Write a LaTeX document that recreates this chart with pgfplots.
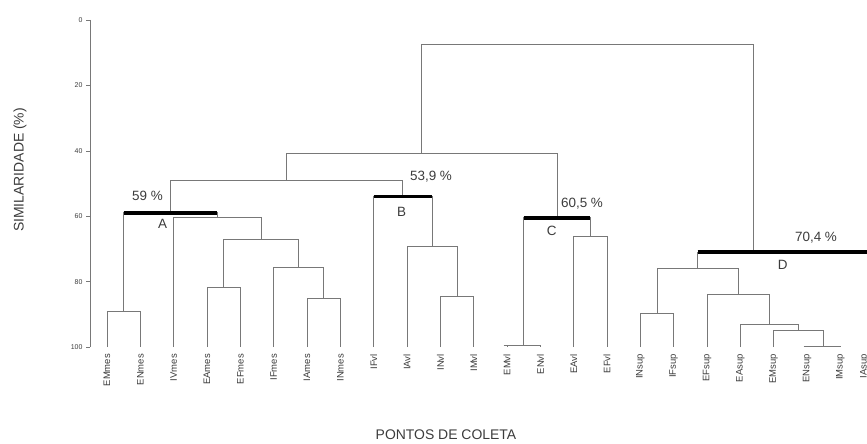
\documentclass[border=0pt]{standalone}
\usepackage{pgfplots}
\pgfplotsset{compat=1.18}
\usepackage{fontspec}
\setmainfont{Liberation Sans}
\definecolor{dline}{RGB}{120,120,120}
\definecolor{dtext}{RGB}{60,60,60}
\begin{document}
\begin{tikzpicture}[x=1bp,y=1bp]
\begin{axis}[
  at={(90bp,97bp)}, anchor=south west,
  scale only axis, width=777bp, height=327bp,
  xmin=0.49, xmax=23.80, ymin=0, ymax=100,
  y dir=reverse, clip=false,
  axis x line=none, axis y line*=left,
  y axis line style={draw=dline, line width=0.8bp, -},
  ytick={0,20,40,60,80,100},
  tick align=outside, major tick length=4bp,
  y tick style={draw=dline, line width=0.6bp},
  y tick label style={font=\fontsize{7}{8}\selectfont, text=dtext},
  /pgf/number format/assume math mode=true,
  dl/.style={draw=dline, line width=0.9bp, solid, mark=none},
  cut/.style={draw=black, line width=3.5bp, solid, mark=none},
]
% cluster A
\addplot[dl] coordinates {(1,100)(1,89.2)(2,89.2)(2,100)};
\addplot[dl] coordinates {(4,100)(4,81.8)(5,81.8)(5,100)};
\addplot[dl] coordinates {(7,100)(7,85.1)(8,85.1)(8,100)};
\addplot[dl] coordinates {(6,100)(6,75.6)(7.5,75.6)(7.5,85.1)};
\addplot[dl] coordinates {(4.5,81.8)(4.5,67.1)(6.75,67.1)(6.75,75.6)};
\addplot[dl] coordinates {(3,100)(3,60.3)(5.625,60.3)(5.625,67.1)};
\addplot[dl] coordinates {(1.5,89.2)(1.5,59)(4.3125,59)(4.3125,60.3)};
% cluster B
\addplot[dl] coordinates {(11,100)(11,84.6)(12,84.6)(12,100)};
\addplot[dl] coordinates {(10,100)(10,69.4)(11.5,69.4)(11.5,84.6)};
\addplot[dl] coordinates {(9,100)(9,53.9)(10.75,53.9)(10.75,69.4)};
\addplot[dl] coordinates {(2.906,59)(2.906,49.2)(9.875,49.2)(9.875,53.9)};
% cluster C
\addplot[dl] coordinates {(12.9,99.5)(14,99.5)(14,100)};
\addplot[dl] coordinates {(13,100)(13,99.5)};
\addplot[dl] coordinates {(15,100)(15,66.1)(16,66.1)(16,100)};
\addplot[dl] coordinates {(13.5,99.5)(13.5,60.5)(15.5,60.5)(15.5,66.1)};
\addplot[dl] coordinates {(6.39,49.2)(6.39,40.7)(14.5,40.7)(14.5,60.5)};
% cluster D
\addplot[dl] coordinates {(17,100)(17,89.6)(18,89.6)(18,100)};
\addplot[dl] coordinates {(21.9,99.7)(23,99.7)(23,100)};
\addplot[dl] coordinates {(21,100)(21,94.8)(22.5,94.8)(22.5,99.7)};
\addplot[dl] coordinates {(20,100)(20,93)(21.75,93)(21.75,94.8)};
\addplot[dl] coordinates {(19,100)(19,83.8)(20.875,83.8)(20.875,93)};
\addplot[dl] coordinates {(17.5,89.6)(17.5,76.1)(19.94,76.1)(19.94,83.8)};
\addplot[dl] coordinates {(18.72,76.1)(18.72,71)(24,71)(24,100)};
% root
\addplot[dl] coordinates {(10.445,40.7)(10.445,7.6)(20.38,7.6)(20.38,71)};
% thick cut bars
\addplot[cut] coordinates {(1.5,59)(4.3125,59)};
\addplot[cut] coordinates {(9,53.9)(10.75,53.9)};
\addplot[cut] coordinates {(13.5,60.5)(15.5,60.5)};
\addplot[cut] coordinates {(18.72,71)(24,71)};
% annotations
\begin{scope}[every node/.style={font=\fontsize{13.5}{16}\selectfont, text=dtext, inner sep=0pt}]
\node at (axis cs:2.215,53.8) {59 \%};
\node at (axis cs:2.67,62.4) {A};
\node at (axis cs:10.72,47.9) {53,9 \%};
\node at (axis cs:9.84,58.6) {B};
\node at (axis cs:15.25,56.3) {60,5 \%};
\node at (axis cs:14.34,64.5) {C};
\node at (axis cs:22.27,66.5) {70,4 \%};
\node at (axis cs:21.27,74.9) {D};
\end{scope}
% leaf labels
\begin{scope}[every node/.style={font=\fontsize{9.5}{11}\selectfont, text=dtext, rotate=90, anchor=east, inner sep=0pt}]
\node at ([yshift=-7bp]axis cs:1,100) {EMmes};
\node at ([yshift=-7bp]axis cs:2,100) {ENmes};
\node at ([yshift=-7bp]axis cs:3,100) {IVmes};
\node at ([yshift=-7bp]axis cs:4,100) {EAmes};
\node at ([yshift=-7bp]axis cs:5,100) {EFmes};
\node at ([yshift=-7bp]axis cs:6,100) {IFmes};
\node at ([yshift=-7bp]axis cs:7,100) {IAmes};
\node at ([yshift=-7bp]axis cs:8,100) {INmes};
\node at ([yshift=-7bp]axis cs:9,100) {IFvl};
\node at ([yshift=-7bp]axis cs:10,100) {IAvl};
\node at ([yshift=-7bp]axis cs:11,100) {INvl};
\node at ([yshift=-7bp]axis cs:12,100) {IMvl};
\node at ([yshift=-7bp]axis cs:13,100) {EMvl};
\node at ([yshift=-7bp]axis cs:14,100) {ENvl};
\node at ([yshift=-7bp]axis cs:15,100) {EAvl};
\node at ([yshift=-7bp]axis cs:16,100) {EFvl};
\node at ([yshift=-7bp]axis cs:17,100) {INsup};
\node at ([yshift=-7bp]axis cs:18,100) {IFsup};
\node at ([yshift=-7bp]axis cs:19,100) {EFsup};
\node at ([yshift=-7bp]axis cs:20,100) {EAsup};
\node at ([yshift=-7bp]axis cs:21,100) {EMsup};
\node at ([yshift=-7bp]axis cs:22,100) {ENsup};
\node at ([yshift=-7bp]axis cs:23,100) {IMsup};
\node at ([yshift=-7bp]axis cs:23.72,100) {IAsup};
\end{scope}
\end{axis}
\node[rotate=90, font=\fontsize{14}{16}\selectfont, text=dtext] at (20bp,274bp) {SIMILARIDADE (\%)};
\node[font=\fontsize{14}{16}\selectfont, text=dtext] at (446bp,9bp) {PONTOS DE COLETA};
\pgfresetboundingbox
\path[use as bounding box] (0,0) rectangle (867bp,444bp);
\end{tikzpicture}
\end{document}
